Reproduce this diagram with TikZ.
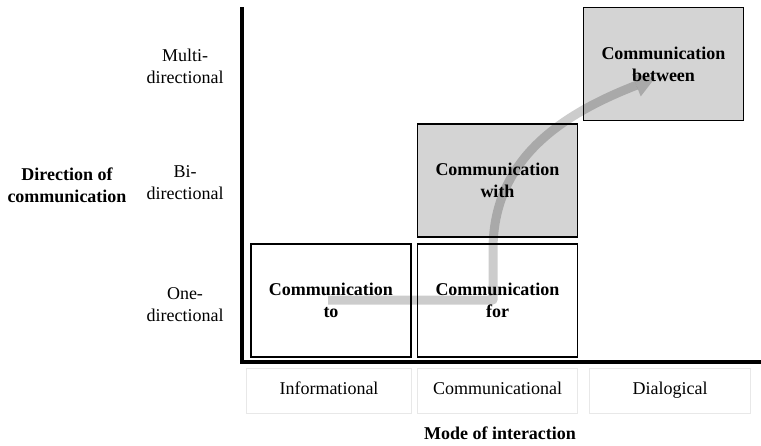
\documentclass[tikz,border=0pt]{standalone}
\usepackage{fontspec}
\setmainfont{Liberation Serif}
\usetikzlibrary{arrows.meta}
\begin{document}
\begin{tikzpicture}[x=1pt,y=-1pt,
  txt/.style={font=\fontsize{18}{22}\selectfont, align=center, inner sep=0pt},
  btxt/.style={txt, font=\fontsize{18}{22}\selectfont\bfseries},
  cell/.style={btxt, draw=black, line width=1.8pt, minimum width=160pt, minimum height=113pt},
  whitecell/.style={cell, fill=white},
  graycell/.style={cell, fill=black!17},
  modebox/.style={txt, draw=black!9, line width=0.8pt, minimum height=45pt, text height=12pt, text depth=4pt},
  axis/.style={line width=4pt, line join=miter},
  flow/.style={line width=9pt, draw=black, opacity=0.2, line join=round,
    -{Triangle[length=20pt,width=24pt,line width=0pt]}}]
\useasboundingbox (0,0) rectangle (761,445);

% axes
\coordinate (ytop) at (242,7);
\coordinate (xend) at (761,362);
\draw[axis] (ytop) |- (xend);

% cells
\node[whitecell] (to) at (331,300.5) {Communication\\to};
\node[whitecell] (for) at (497.5,300.5) {Communication\\for};
\node[graycell] (with) at (497.5,180.5) {Communication\\with};
\node[graycell] (between) at (663.5,64) {Communication\\between};

% mode boxes
\node[modebox, minimum width=165pt] (inf) at (329,390.5) {Informational};
\node[modebox, minimum width=160pt] (com) at (497.5,390.5) {Communicational};
\node[modebox, minimum width=161pt] (dia) at (670,390.5) {Dialogical};
\node[btxt] (mode) at (500,433) {Mode of interaction};

% direction labels
\node[txt] (multi) at (185,66) {Multi-\\directional};
\node[txt] (bi) at (185,183) {Bi-\\directional};
\node[txt] (one) at (185,305) {One-\\directional};
\node[btxt] (dir) at (67,185) {Direction of\\communication};

% flow arrow
\coordinate (a1) at (328,300);
\coordinate (a2) at (493,300);
\coordinate (a3) at (493,250);
\coordinate (a4) at (655,78);
\draw[flow] (a1) -- (a2) -- (a3) .. controls (493,160) and (560,115) .. (a4);
\end{tikzpicture}
\end{document}
